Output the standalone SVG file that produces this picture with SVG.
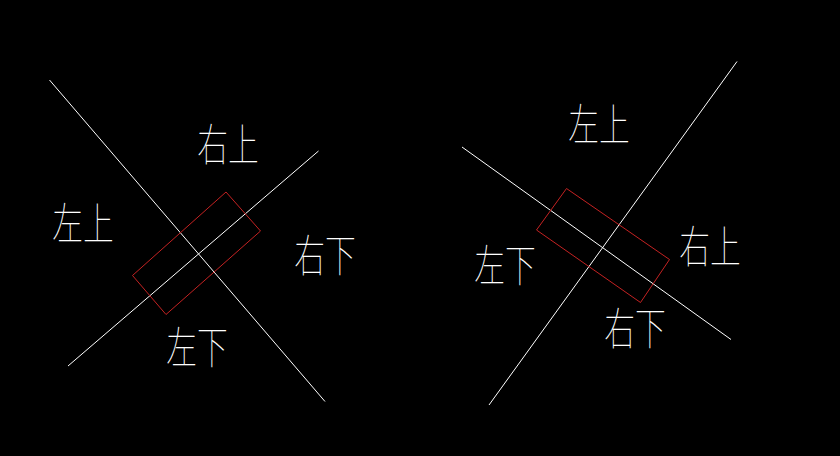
<svg xmlns="http://www.w3.org/2000/svg" width="840" height="456" viewBox="0 0 840 456">
<style>
.ln{stroke:#ffffff;stroke-width:1;fill:none}
.rc{stroke:#c42222;stroke-width:1;fill:none}
.lb{font-family:"Noto Sans CJK SC","Noto Sans CJK JP",sans-serif;font-size:44px;font-weight:100;fill:#ffffff;text-anchor:middle}
</style>
<rect width="840" height="456" fill="#000000"/>
<g id="connectors">
<line class="ln" x1="49.5" y1="80" x2="325" y2="401.5"/>
<line class="ln" x1="68" y1="366" x2="318.5" y2="151"/>
<line class="ln" x1="489" y1="405" x2="737" y2="61.5"/>
<line class="ln" x1="462" y1="147" x2="731" y2="339.5"/>
</g>
<g id="rect-left">
<polygon class="rc" points="226,192 260.5,231 166,314.5 132.5,275.5"/>
</g>
<g id="rect-right">
<polygon class="rc" points="566.5,188.5 669.5,259.5 640.5,302.5 536.5,230"/>
</g>
<g id="labels-left">
<text class="lb" transform="translate(228,161) scale(0.7,1)">右上</text>
<text class="lb" transform="translate(83,240) scale(0.7,1)">左上</text>
<text class="lb" transform="translate(325,272) scale(0.7,1)">右下</text>
<text class="lb" transform="translate(197,364) scale(0.7,1)">左下</text>
</g>
<g id="labels-right">
<text class="lb" transform="translate(599,141) scale(0.7,1)">左上</text>
<text class="lb" transform="translate(710,263) scale(0.7,1)">右上</text>
<text class="lb" transform="translate(505,282) scale(0.7,1)">左下</text>
<text class="lb" transform="translate(635,345) scale(0.7,1)">右下</text>
</g>
</svg>
